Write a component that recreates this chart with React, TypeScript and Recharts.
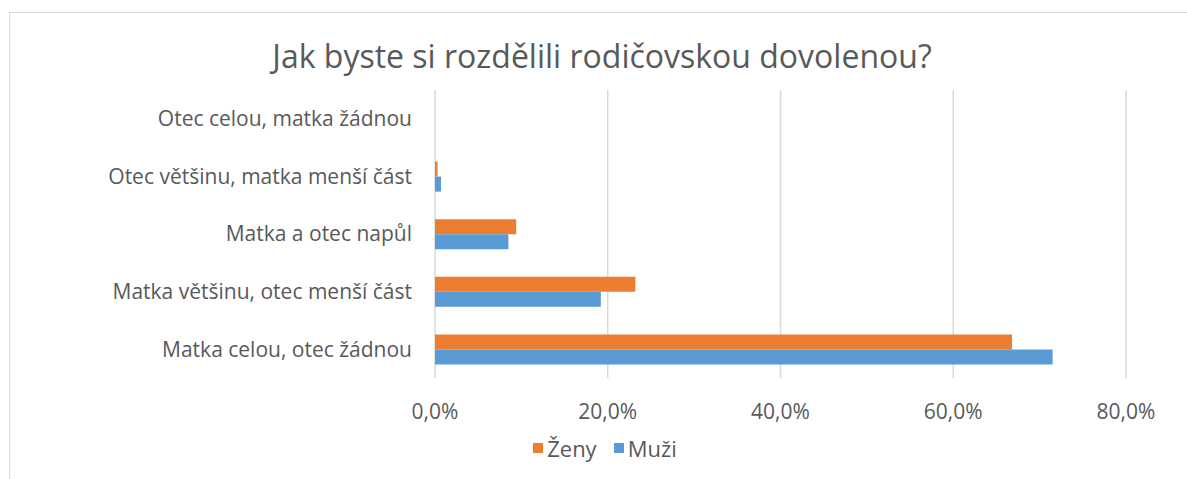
import React from 'react';
import { BarChart, Bar, XAxis, YAxis, CartesianGrid, Legend } from 'recharts';

const categories = [
  'Otec celou, matka žádnou',
  'Otec většinu, matka menší část',
  'Matka a otec napůl',
  'Matka většinu, otec menší část',
  'Matka celou, otec žádnou',
];
const zeny = [0, 0.003, 0.094, 0.232, 0.668];
const muzi = [0, 0.007, 0.085, 0.192, 0.715];
const xTicks = [0, 0.2, 0.4, 0.6, 0.8];
const series = [
  { key: 'zeny', name: 'Ženy', color: '#ED7D31' },
  { key: 'muzi', name: 'Muži', color: '#5B9BD5' },
];

const data = categories.map((name, i) => ({ name, zeny: zeny[i], muzi: muzi[i] }));

const FONT = '"Open Sans", sans-serif';
const TEXT = '#595959';

const fmtPct = (v: number) => (v * 100).toFixed(1).replace('.', ',') + '%';

const LegendContent = () => (
  <div style={{ display: 'flex', justifyContent: 'center', gap: 17, paddingLeft: 84, fontSize: 22, color: TEXT, fontFamily: FONT }}>
    {series.map(s => (
      <div key={s.key} style={{ display: 'flex', alignItems: 'center', gap: 4 }}>
        <span style={{ width: 10, height: 10, background: s.color, display: 'inline-block' }} />
        <span>{s.name}</span>
      </div>
    ))}
  </div>
);

export default function App() {
  return (
    <div style={{ position: 'absolute', left: 0, top: 0, width: 1187, height: 479, overflow: 'hidden', background: '#fff', fontFamily: FONT }}>
      <div style={{ position: 'absolute', left: 9, top: 12, width: 1200, height: 500, borderTop: '1px solid #d9d9d9', borderLeft: '1px solid #d9d9d9' }} />
      <div style={{ position: 'absolute', left: 0, width: 1204, top: 34, textAlign: 'center', fontSize: 32, color: TEXT }}>
        Jak byste si rozdělili rodičovskou dovolenou?
      </div>
      <div style={{ position: 'absolute', left: 0, top: 0 }}>
        <BarChart
          width={1187}
          height={479}
          data={data}
          layout="vertical"
          margin={{ top: 90, right: 61, left: 0, bottom: 16 }}
          barGap={0}
          barSize={15}
        >
          <CartesianGrid horizontal={false} stroke="#d9d9d9" strokeWidth={1.5} />
          <XAxis
            type="number"
            domain={[0, 0.8]}
            ticks={xTicks}
            tickFormatter={fmtPct}
            axisLine={false}
            tickLine={false}
            tickSize={0}
            tickMargin={26}
            height={55}
            tick={{ fill: TEXT, fontSize: 21, fontFamily: FONT }}
          />
          <YAxis
            type="category"
            dataKey="name"
            width={435}
            axisLine={false}
            tickLine={false}
            tickSize={0}
            tickMargin={23}
            tick={{ fill: TEXT, fontSize: 21, fontFamily: FONT }}
          />
          <Legend verticalAlign="bottom" align="center" content={LegendContent} />
          {series.map(s => (
            <Bar key={s.key} dataKey={s.key} name={s.name} fill={s.color} isAnimationActive={false} />
          ))}
        </BarChart>
      </div>
    </div>
  );
}
